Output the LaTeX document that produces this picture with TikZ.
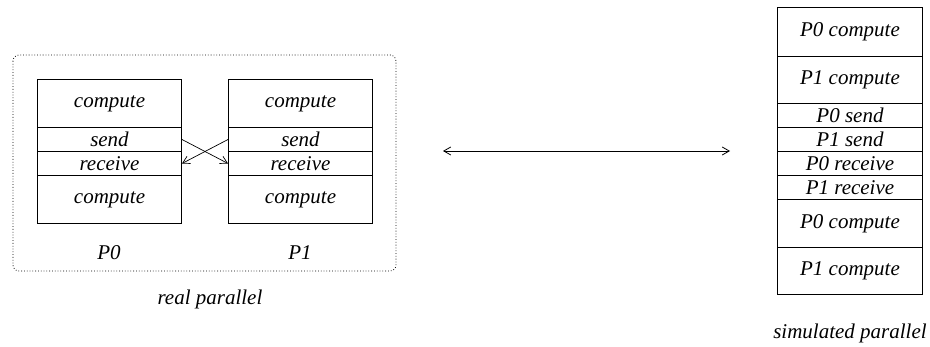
\documentclass[tikz,border=0pt]{standalone}
\usepackage{fontspec}
\setmainfont{Liberation Serif}
\usetikzlibrary{arrows.meta}
\begin{document}
\begin{tikzpicture}[x=1pt,y=-1pt,
  cell/.style={draw,line width=1pt,rectangle,inner sep=0pt,anchor=north west,minimum width=144pt,font=\fontsize{21}{24}\selectfont\itshape},
  lbl/.style={inner sep=0pt,font=\fontsize{21}{24}\selectfont\itshape},
  arr/.style={line width=0.7pt,-{Straight Barb[length=7pt,width=8pt]}}]
\useasboundingbox (0,0) rectangle (930,347);
\draw[dotted,line width=0.8pt,rounded corners=6pt] (13,55) rectangle (396,271);
% P0
\node[cell,minimum height=48pt] (c0a) at (37,79) {compute};
\node[cell,minimum height=24pt] (s0) at (37,127) {send};
\node[cell,minimum height=24pt] (r0) at (37,151) {receive};
\node[cell,minimum height=48pt] (c0b) at (37,175) {compute};
% P1
\node[cell,minimum height=48pt] (c1a) at (228,79) {compute};
\node[cell,minimum height=24pt] (s1) at (228,127) {send};
\node[cell,minimum height=24pt] (r1) at (228,151) {receive};
\node[cell,minimum height=48pt] (c1b) at (228,175) {compute};
\node[lbl] (p0) at (109,253) {P0};
\node[lbl] (p1) at (300,253) {P1};
\node[lbl] (real) at (210,299) {real parallel};
\draw[arr] (s0.east) -- (r1.west);
\draw[arr] (s1.west) -- (r0.east);
% simulated
\node[cell,minimum width=145pt,minimum height=49pt] (a1) at (777,7) {P0 compute};
\node[cell,minimum width=145pt,minimum height=47pt] (a2) at (777,56) {P1 compute};
\node[cell,minimum width=145pt,minimum height=24pt] (a3) at (777,103) {P0 send};
\node[cell,minimum width=145pt,minimum height=24pt] (a4) at (777,127) {P1 send};
\node[cell,minimum width=145pt,minimum height=24pt] (a5) at (777,151) {P0 receive};
\node[cell,minimum width=145pt,minimum height=24pt] (a6) at (777,175) {P1 receive};
\node[cell,minimum width=145pt,minimum height=48pt] (a7) at (777,199) {P0 compute};
\node[cell,minimum width=145pt,minimum height=47pt] (a8) at (777,247) {P1 compute};
\node[lbl] (sim) at (850,333) {simulated parallel};
% double arrow
\coordinate (dl) at (443,151);
\coordinate (dr) at (730,151);
\draw[line width=0.8pt,{Straight Barb[length=7pt,width=8pt]}-{Straight Barb[length=7pt,width=8pt]}] (dl) -- (dr);
\end{tikzpicture}
\end{document}
